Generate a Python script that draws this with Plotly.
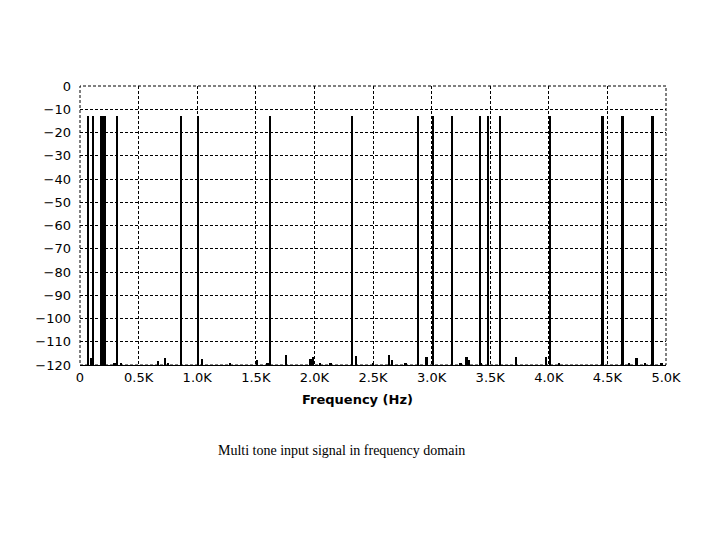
import plotly.graph_objects as go

# tall tones (Hz) and their level (dB)
tone_freq = [68, 111, 180, 195, 210, 316, 862, 1007, 1621, 2321, 2884, 3012, 3174,
             3413, 3481, 3584, 4010, 4460, 4627, 4887]
tone_db = [-13] * len(tone_freq)

# small spurs near the noise floor
spur_freq = [98, 296, 350, 666, 730, 751, 1044, 1280, 1513, 1601, 1758, 1968, 1990,
             2050, 2140, 2355, 2500, 2637, 2662, 2779, 2958, 3248, 3299, 3322, 3420,
             3720, 3976, 4090, 4684, 4750, 4821, 4963]
spur_db = [-117, -119, -119.5, -118.3, -117, -119, -117.3, -119.5, -118, -119, -115.7,
           -117.5, -116.5, -119, -119.5, -116, -119.5, -115.7, -118, -119, -116.7,
           -119.5, -116.7, -118, -119, -116.5, -116.7, -119, -119.5, -117, -119.5, -119]

floor_db = -120
x_ticks = [0, 500, 1000, 1500, 2000, 2500, 3000, 3500, 4000, 4500, 5000]
x_labels = ['0', '0.5K', '1.0K', '1.5K', '2.0K', '2.5K', '3.0K', '3.5K', '4.0K', '4.5K', '5.0K']

fig = go.Figure()

fig.add_trace(go.Bar(
    x=tone_freq, y=[d - floor_db for d in tone_db], base=floor_db,
    width=22, marker=dict(color='black', line=dict(width=0)),
    showlegend=False
))

fig.add_trace(go.Bar(
    x=spur_freq, y=[d - floor_db for d in spur_db], base=floor_db,
    width=16, marker=dict(color='black', line=dict(width=0)),
    showlegend=False
))

grid = dict(showgrid=True, gridcolor='black', gridwidth=1, griddash='3px,2px', zeroline=False)

fig.update_layout(
    width=720, height=540,
    paper_bgcolor='white', plot_bgcolor='white',
    barmode='overlay', bargap=0,
    margin=dict(l=72, r=62, t=78, b=183),
    font=dict(family='DejaVu Sans', size=13, color='black'),
    xaxis=dict(
        range=[0, 5000], tickvals=x_ticks, ticktext=x_labels,
        showline=True, linecolor='black', linewidth=1, ticks='',
        **grid
    ),
    yaxis=dict(
        range=[-120, 0], dtick=10, ticks='', showline=False,
        ticklabelstandoff=8,
        **grid
    ),
    # dashed frame round the plot (left/top/right edges are dashed in the original)
    shapes=[dict(type='rect', xref='paper', yref='paper', x0=0, y0=0, x1=1, y1=1,
                 line=dict(color='black', width=1, dash='3px,2px'), layer='below')],
    annotations=[
        # axis title sits a little left of centre in the original
        dict(text='<b>Frequency (Hz)</b>', xref='paper', yref='paper', x=0.474, y=-0.122,
             xanchor='center', yanchor='middle', showarrow=False, font=dict(size=13)),
        dict(text='Multi tone input signal in frequency domain',
             xref='paper', yref='paper', x=0.446, y=-0.305, xanchor='center', yanchor='middle',
             showarrow=False, font=dict(family='Liberation Serif', size=14, color='black')),
    ]
)

fig.write_html('out.html')
